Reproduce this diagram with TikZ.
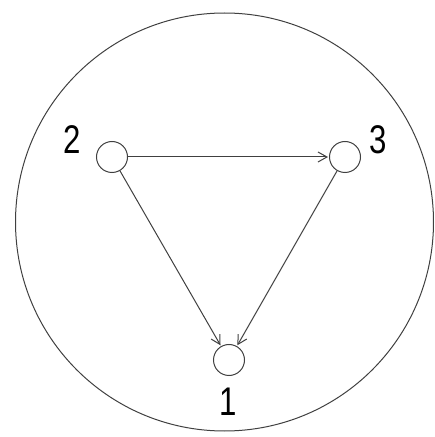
\documentclass[tikz,border=0pt]{standalone}
\usepackage{fontspec}
\setmainfont{Liberation Sans}
\usetikzlibrary{arrows.meta}
\begin{document}
\begin{tikzpicture}[
  x=1pt, y=1pt,
  line width=1pt, draw=black!75,
  vert/.style={draw, circle, minimum size=31pt, inner sep=0pt},
  num/.style={font=\fontsize{40}{40}\selectfont, inner sep=0pt, xscale=0.78},
  edge/.style={-{Straight Barb[length=9pt,width=10pt]}, shorten >=1pt}
]
\useasboundingbox (0,0) rectangle (435,437);
\draw (224.5,215) circle (209);
\node[vert] (n2) at (112,280) {};
\node[vert] (n3) at (345,280) {};
\node[vert] (n1) at (229,77) {};
\node[num] (l2) at (72,297) {2};
\node[num] (l3) at (378,297) {3};
\node[num] (l1) at (228,35) {1};
\draw[edge] (n2) -- (n3);
\draw[edge] (n2) -- (n1);
\draw[edge] (n3) -- (n1);
\end{tikzpicture}
\end{document}
